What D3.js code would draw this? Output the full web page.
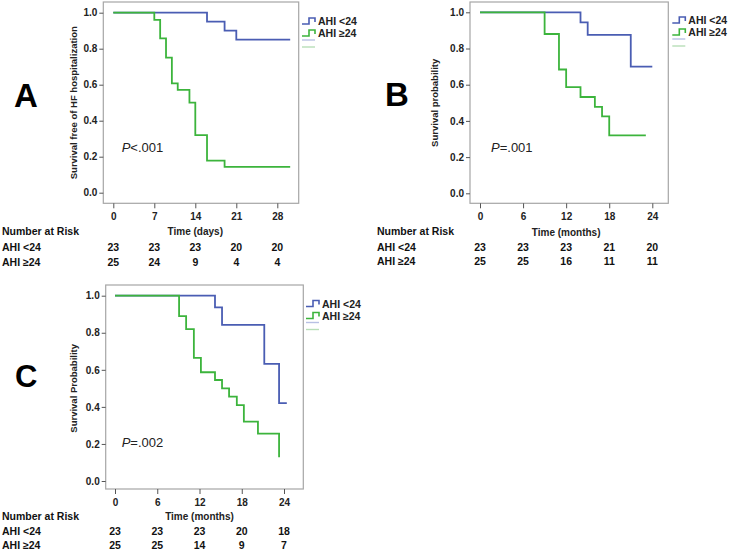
<!DOCTYPE html>
<html><head><meta charset="utf-8">
<script src="https://cdn.jsdelivr.net/npm/d3@7"></script>
<style>
html,body{margin:0;padding:0;background:#fff;}
svg{display:block;}
text{font-family:"Liberation Sans",Arial,sans-serif;}
</style></head><body>
<svg id="chart" width="729" height="551"></svg>
<script>
// ---- Data ----
const groups = ["AHI <24", "AHI \u226524"];
const riskRowLabels = ["AHI <24", "AHI \u226524"];

// Panel A (days)
const aTicks = [0, 7, 14, 21, 28];
const aLowTimes = [0, 16, 19, 21];
const aLowSurv  = [1, 0.95, 0.90, 0.85];
const aLowEnd = 30.2;
const aHighTimes = [0, 7, 8, 9, 10, 11, 13, 14, 16, 19];
const aHighSurv  = [1, 0.96, 0.857, 0.75, 0.607, 0.571, 0.50, 0.32, 0.178, 0.143];
const aHighEnd = 30.2;
const aRiskLow  = [23, 23, 23, 20, 20];
const aRiskHigh = [25, 24, 9, 4, 4];

// Panel B (months)
const bTicks = [0, 6, 12, 18, 24];
const bLowTimes = [0, 14, 15, 21];
const bLowSurv  = [1, 0.944, 0.875, 0.70];
const bLowEnd = 24;
const bHighTimes = [0, 9, 11, 12, 14, 16, 17, 18];
const bHighSurv  = [1, 0.88, 0.684, 0.587, 0.532, 0.478, 0.425, 0.32];
const bHighEnd = 23.1;
const bRiskLow  = [23, 23, 23, 21, 20];
const bRiskHigh = [25, 25, 16, 11, 11];

// Panel C (months)
const cTicks = [0, 6, 12, 18, 24];
const cLowTimes = [0, 14.2, 15.2, 21.2, 23.3];
const cLowSurv  = [1, 0.937, 0.843, 0.632, 0.42];
const cLowEnd = 24.4;
const cHighTimes = [0, 9.1, 10.1, 11.2, 12.2, 14.2, 15.2, 16.2, 17.3, 18.3, 20.3, 23.3];
const cHighSurv  = [1, 0.89, 0.82, 0.665, 0.587, 0.545, 0.50, 0.455, 0.41, 0.32, 0.256, 0.128];
const cHighEnd = 23.3;
const cRiskLow  = [23, 23, 23, 20, 18];
const cRiskHigh = [25, 25, 14, 9, 7];

const yTicks = [0, 0.2, 0.4, 0.6, 0.8, 1.0];

// ---- Styles ----
const colLow = "#4a5db3", colHigh = "#3cb43c";
const colLowFaint = "#b8c0e4", colHighFaint = "#b8deb8";
const frameCol = "#a6a6a6";

const svg = d3.select("#chart");

function panel(cfg) {
  const g = svg.append("g");
  const x = d3.scaleLinear().domain([cfg.ticks[0], cfg.ticks[cfg.ticks.length-1]]).range([cfg.x0, cfg.x1]);
  const y = d3.scaleLinear().domain([0, 1]).range([cfg.y0, cfg.y1]);

  // frame
  g.append("rect").attr("x", cfg.fl).attr("y", cfg.ft)
    .attr("width", cfg.fr - cfg.fl).attr("height", cfg.fb - cfg.ft)
    .attr("fill", "#fff").attr("stroke", frameCol).attr("stroke-width", 1.2);

  // y axis
  const ya = g.append("g").attr("transform", `translate(${cfg.fl},0)`)
    .call(d3.axisLeft(y).tickValues(yTicks).tickFormat(d3.format(".1f")).tickSize(4).tickSizeOuter(0));
  ya.select(".domain").remove();
  ya.selectAll("line").attr("stroke", "#555");
  ya.selectAll("text").attr("font-size", 10).attr("font-weight", "bold").attr("fill", "#222").attr("dx", "1");

  // x axis
  const xa = g.append("g").attr("transform", `translate(0,${cfg.fb})`)
    .call(d3.axisBottom(x).tickValues(cfg.ticks).tickSize(5).tickSizeOuter(0));
  xa.select(".domain").remove();
  xa.selectAll("line").attr("stroke", "#555");
  xa.selectAll("text").attr("font-size", 10).attr("font-weight", "bold").attr("fill", "#222").attr("dy", "0.85em");

  // x label
  g.append("text").attr("x", (cfg.x0 + cfg.x1) / 2).attr("y", cfg.xlY)
    .attr("text-anchor", "middle").attr("font-size", 10).attr("font-weight", "bold").attr("fill", "#222")
    .text(cfg.xLabel);

  // y label
  g.append("text").attr("transform", `translate(${cfg.ylx},${(cfg.y0 + cfg.y1)/2}) rotate(-90)`)
    .attr("text-anchor", "middle").attr("font-size", cfg.ylSize).attr("font-weight", "bold").attr("fill", "#222")
    .text(cfg.yLabel);

  // curves
  const line = d3.line().x(d => x(d[0])).y(d => y(d[1])).curve(d3.curveStepAfter);
  const series = [
    {t: cfg.lowT, s: cfg.lowS, end: cfg.lowEnd, c: colLow},
    {t: cfg.highT, s: cfg.highS, end: cfg.highEnd, c: colHigh}
  ];
  series.forEach(sr => {
    const pts = sr.t.map((t, i) => [t, sr.s[i]]);
    pts.push([sr.end, sr.s[sr.s.length - 1]]);
    g.append("path").attr("d", line(pts)).attr("fill", "none")
      .attr("stroke", sr.c).attr("stroke-width", 1.8);
  });

  // P text
  const pt = g.append("text").attr("x", cfg.px).attr("y", cfg.py).attr("font-size", 13).attr("fill", "#222");
  pt.append("tspan").attr("font-style", "italic").text("P");
  pt.append("tspan").text(cfg.pText);

  // legend
  const lx = cfg.lx, ly = cfg.ly;
  [colLow, colHigh].forEach((c, i) => {
    const yy = ly + i * 12;
    g.append("path").attr("d", `M${lx},${yy+3}H${lx+7}V${yy-3}H${lx+13}V${yy+1}`)
      .attr("fill", "none").attr("stroke", c).attr("stroke-width", 1.6);
    g.append("text").attr("x", lx + 16).attr("y", yy + 4).attr("font-size", 10.5)
      .attr("font-weight", "bold").attr("fill", "#222").text(groups[i]);
  });
  [colLowFaint, colHighFaint].forEach((c, i) => {
    const yy = ly + 19 + i * 7;
    g.append("line").attr("x1", lx).attr("x2", lx + 13).attr("y1", yy).attr("y2", yy)
      .attr("stroke", c).attr("stroke-width", 1.4);
  });

  // panel letter
  g.append("text").attr("x", cfg.letX).attr("y", cfg.letY).attr("font-size", cfg.letSize)
    .attr("font-weight", "bold").attr("fill", "#000").text(cfg.letter);

  // risk table
  const rs = 10.5;
  g.append("text").attr("x", cfg.rx).attr("y", cfg.riskY[0]).attr("font-size", rs)
    .attr("font-weight", "bold").attr("fill", "#111").text("Number at Risk");
  [cfg.riskLow, cfg.riskHigh].forEach((row, r) => {
    const yy = cfg.riskY[r + 1];
    g.append("text").attr("x", cfg.rx).attr("y", yy).attr("font-size", rs)
      .attr("font-weight", "bold").attr("fill", "#111").text(riskRowLabels[r]);
    g.selectAll(null).data(row).enter().append("text")
      .attr("x", (d, i) => x(cfg.ticks[i])).attr("y", yy)
      .attr("text-anchor", "middle").attr("font-size", rs).attr("font-weight", "bold").attr("fill", "#111")
      .text(d => d);
  });
}

panel({
  ticks: aTicks, x0: 113.3, x1: 277.3, y0: 192.7, y1: 12.7,
  fl: 103.3, fr: 298.7, ft: 2, fb: 203.3,
  xLabel: "Time (days)", yLabel: "Survival free of HF hospitalization", ylx: 77, ylSize: 9.5,
  xlY: 234.5, riskY: [234.5, 250.5, 265.5],
  lowT: aLowTimes, lowS: aLowSurv, lowEnd: aLowEnd,
  highT: aHighTimes, highS: aHighSurv, highEnd: aHighEnd,
  px: 121.7, py: 151.5, pText: "<.001",
  lx: 302, ly: 21,
  letter: "A", letX: 14, letY: 106.5, letSize: 33,
  rx: 2, riskLow: aRiskLow, riskHigh: aRiskHigh
});

panel({
  ticks: bTicks, x0: 480, x1: 652.3, y0: 193.3, y1: 12.3,
  fl: 470, fr: 668.3, ft: 2, fb: 203.3,
  xLabel: "Time (months)", yLabel: "Survival probability", ylx: 438, ylSize: 9.5,
  xlY: 235.5, riskY: [235, 250.5, 265],
  lowT: bLowTimes, lowS: bLowSurv, lowEnd: bLowEnd,
  highT: bHighTimes, highS: bHighSurv, highEnd: bHighEnd,
  px: 491, py: 151.5, pText: "=.001",
  lx: 672.3, ly: 20,
  letter: "B", letX: 385, letY: 106, letSize: 33,
  rx: 377, riskLow: bRiskLow, riskHigh: bRiskHigh
});

panel({
  ticks: cTicks, x0: 115, x1: 284, y0: 481, y1: 295.7,
  fl: 105.7, fr: 303.3, ft: 285, fb: 489,
  xLabel: "Time (months)", yLabel: "Survival Probability", ylx: 77, ylSize: 9.5,
  xlY: 519.5, riskY: [519.5, 534.5, 549],
  lowT: cLowTimes, lowS: cLowSurv, lowEnd: cLowEnd,
  highT: cHighTimes, highS: cHighSurv, highEnd: cHighEnd,
  px: 121.7, py: 447, pText: "=.002",
  lx: 306, ly: 303.5,
  letter: "C", letX: 15, letY: 387, letSize: 31,
  rx: 2, riskLow: cRiskLow, riskHigh: cRiskHigh
});
</script>
</body></html>
